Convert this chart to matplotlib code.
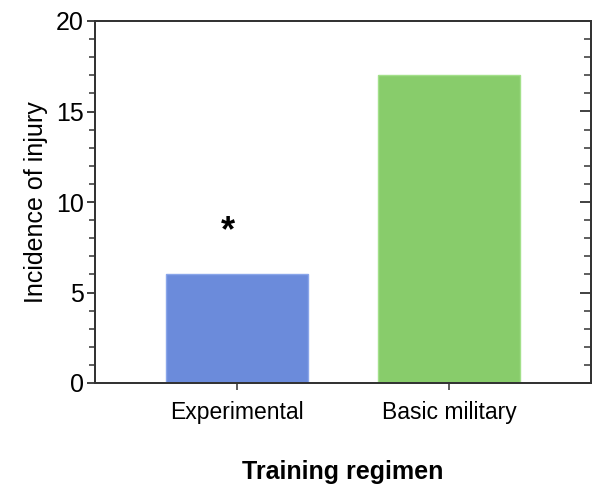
import matplotlib
matplotlib.use("Agg")
import matplotlib.pyplot as plt
from matplotlib.ticker import MultipleLocator

plt.rcParams['font.family'] = ['Liberation Sans', 'DejaVu Sans']

categories = ["Experimental", "Basic military"]
incidence = [6, 17]
bar_colors = ["#6b8bdb", "#88cc6b"]
edge_colors = ["#8aa6ea", "#a3e08a"]
significance = ["*", ""]

fig = plt.figure(figsize=(5.95, 4.92), dpi=100)
ax = fig.add_axes([95/595, 1 - 383/492, (591 - 95)/595, (383 - 21)/492])

x = list(range(len(categories)))
ax.bar(x, incidence, width=0.668, color=bar_colors, edgecolor=edge_colors,
       linewidth=1.0, zorder=2)

for xi, val, mark in zip(x, incidence, significance):
    if mark:
        ax.annotate(mark, xy=(xi - 0.04, val), xytext=(0, 31),
                    textcoords="offset points", ha="center", va="center",
                    fontsize=26, fontweight="bold", color="black")

ax.set_xlim(-0.667, 1.667)
ax.set_ylim(0, 20)
ax.set_xticks(x)
ax.set_xticklabels(categories, fontsize=16.5)
ax.yaxis.set_major_locator(MultipleLocator(5))
ax.yaxis.set_minor_locator(MultipleLocator(1))

spine_col = "#333333"
for s in ax.spines.values():
    s.set_color(spine_col)
    s.set_linewidth(1.3)

ax.tick_params(axis="y", which="major", direction="out", length=6, width=1.3,
               colors=spine_col, labelcolor="black", labelsize=18, pad=2)
ax.tick_params(axis="y", which="minor", direction="out", length=4, width=1.1,
               colors=spine_col)
ax.tick_params(axis="x", which="major", direction="out", length=5, width=1.1,
               colors=spine_col, labelcolor="black", pad=8)

# right-hand scale: same ticks pointing inward, no labels
axr = ax.twinx()
axr.set_ylim(ax.get_ylim())
axr.yaxis.set_major_locator(MultipleLocator(5))
axr.yaxis.set_minor_locator(MultipleLocator(1))
axr.tick_params(axis="y", which="major", direction="in", length=8, width=1.3,
                colors=spine_col, labelright=False)
axr.tick_params(axis="y", which="minor", direction="in", length=5, width=1.1,
                colors=spine_col)
for s in axr.spines.values():
    s.set_color(spine_col)
    s.set_linewidth(1.3)

ax.set_ylabel("Incidence of injury", fontsize=18, labelpad=6)
ax.set_xlabel("Training regimen", fontsize=18, fontweight="bold", labelpad=26)

fig.savefig("out.png", dpi=100)
